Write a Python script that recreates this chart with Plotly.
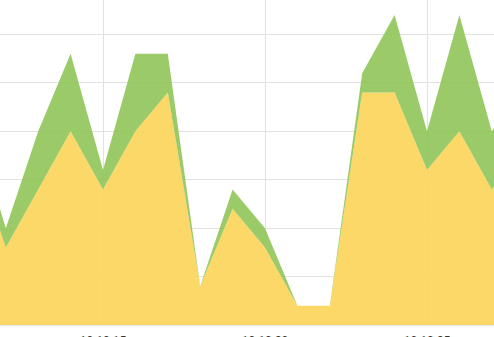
import plotly.graph_objects as go

# x positions (sample index), tick labels every 5 samples
x_idx = list(range(-4, 14))
yellow = [36, 16, 28, 40, 28, 40, 48, 8, 24, 16, 4, 4, 48, 48, 32, 40, 28, 38]
green = [6, 4, 12, 16, 4, 16, 8, 0, 4, 4, 0, 0, 4, 16, 8, 24, 12, 12]
tick_pos = [0, 5, 10]
tick_text = ["10:10:15", "10:10:20", "10:10:25"]

fig = go.Figure()
fig.add_trace(go.Scatter(x=x_idx, y=yellow, stackgroup="s", mode="lines",
                         line=dict(width=0, color="rgba(251,213,90,0.92)"),
                         fillcolor="rgba(251,213,90,0.92)", hoverinfo="skip"))
fig.add_trace(go.Scatter(x=x_idx, y=green, stackgroup="s", mode="lines",
                         line=dict(width=0, color="rgba(144,197,89,0.9)"),
                         fillcolor="rgba(144,197,89,0.9)", hoverinfo="skip"))

fig.update_layout(
    width=494, height=337,
    margin=dict(l=0, r=0, t=0, b=12, pad=0),
    paper_bgcolor="white", plot_bgcolor="white",
    showlegend=False,
    font=dict(family="Roboto, sans-serif", size=12, color="#333"),
    xaxis=dict(range=[-103 / 32.4, (494 - 103) / 32.4], tickvals=tick_pos, ticktext=tick_text,
               showgrid=True, gridcolor="#e2e2e2", gridwidth=1, zeroline=False,
               showline=True, linecolor="#e6e6e6", linewidth=1,
               ticks="outside", ticklen=5, tickcolor="rgba(0,0,0,0)",
               automargin=False, layer="below traces"),
    yaxis=dict(range=[0, 325.5 / 4.85], dtick=10, showgrid=True, gridcolor="#e2e2e2",
               gridwidth=1, zeroline=False, showticklabels=False, automargin=False),
)
fig.write_html("out.html")
